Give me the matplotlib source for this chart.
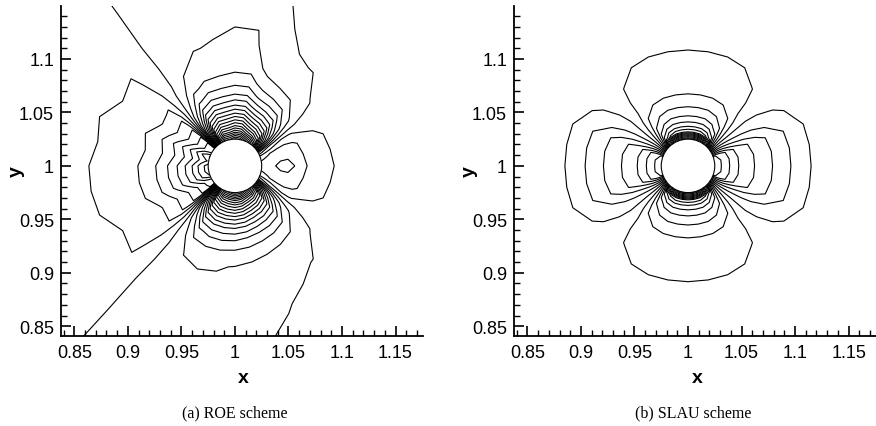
import numpy as np
import matplotlib.pyplot as plt
from matplotlib.patches import Circle
from matplotlib.ticker import MultipleLocator, FormatStrFormatter

plt.rcParams['font.family'] = ['Liberation Sans', 'DejaVu Sans']

# polar mesh around the cylinder (centre at x=1, y=1)
cyl_radius = 0.025
r_nodes = [0.025, 0.028, 0.032, 0.037, 0.043, 0.05, 0.058, 0.068, 0.08,
           0.095, 0.115, 0.14, 0.18, 0.23, 0.28]
theta_deg = np.arange(0, 370, 10)

# SLAU: level count along the x axis (side lobes) and y axis (top/bottom lobes)
slau_side = [7.0, 6.77, 6.43, 5.77, 4.93, 4.25, 3.75, 3.15, 2.44, 1.56, 0.5, 0.3, 0.15, 0.07, 0.03]
slau_top = [-14.8, -11.72, -7.3, -5.5, -4.06, -3.03, -2.23, -1.45, -1.13, -0.74, -0.38, -0.25, -0.12, -0.05, -0.02]
# lobe shape, 0..90 deg away from the x axis
slau_side_w = [1, 1, 0.95, 0.5, 0.25, 0.05, 0, 0, 0, 0]
slau_top_w = [0, 0, 0, 0.1, 0.37, 0.75, 0.92, 1, 1, 1]
slau_levels = np.arange(-14.5, 7, 1)

# ROE: left lobe, top/bottom lobes, right lobe, far field
roe_left = [9.0, 8.6, 8.0, 7.0, 6.0, 5.0, 4.0, 3.0, 2.0, 1.3, 0.8, 0.45, 0.25, 0.12, 0.06]
roe_top = [-19.0, -16.8, -14.0, -11.5, -9.2, -7.0, -5.0, -3.2, -1.9, -1.0, -0.6, -0.4, -0.22, -0.12, -0.06]
roe_right = [1.8, 2.0, 2.2, 2.45, 2.75, 2.8, 2.4, 1.45, 0.95, 0.42, 0.25, 0.15, 0.08, 0.04, 0.02]
roe_far = [0, 0.3, 0.6, 0.8, 0.95, 1, 1, 1, 1, 1, 1, 1, 1, 1, 1]
# weights every 10 deg, 0..350
roe_left_w = [0, 0, 0, 0, 0, 0, 0, 0, 0, 0, 0, 0.02, 0.1, 0.5, 0.85, 0.7, 0.95, 0.85,
              1.0, 1.0, 0.95, 0.7, 0.85, 0.5, 0.1, 0.02, 0, 0, 0, 0, 0, 0, 0, 0, 0, 0]
roe_top_w = [0, 0, 0.03, 0.15, 0.5, 0.8, 0.9, 0.95, 1.02, 1.04, 0.98, 0.99, 0.9, 0.65, 0.08, 0, 0, 0,
             0, 0, 0, 0, 0.1, 0.65, 0.9, 0.97, 1.0, 1.04, 1.02, 0.95, 0.9, 0.8, 0.5, 0.15, 0.03, 0]
roe_right_w = [1, 0.85, 0.8, 0.55, 0.2, 0, 0, 0, 0, 0, 0, 0, 0, 0, 0, 0, 0, 0,
               0, 0, 0, 0, 0, 0, 0, 0, 0, 0, 0, 0, 0, 0, 0.2, 0.55, 0.8, 0.85]
roe_far_w = [0, 0, 0, 0, 0, 0, 0, -0.2, -1.0, -1.0, -0.95, -0.9, -0.75, -0.35, 0, 0, 0, 0,
             0, 0, 0, 0, 0, -0.6, -0.75, -0.7, -0.6, -0.4, -0.25, -0.15, -0.05, 0, 0, 0, 0, 0]
roe_levels = np.arange(-21.5, 9, 1)

rr = np.array(r_nodes)
th = np.deg2rad(theta_deg)
X = 1 + np.outer(rr, np.cos(th))
Y = 1 + np.outer(rr, np.sin(th))

fold = np.abs((theta_deg + 90) % 180 - 90) // 10
Z_slau = np.outer(slau_side, np.array(slau_side_w)[fold]) + np.outer(slau_top, np.array(slau_top_w)[fold])


def closed(w):
    return np.append(w, w[0])


Z_roe = (np.outer(roe_left, closed(roe_left_w)) + np.outer(roe_top, closed(roe_top_w))
         + np.outer(roe_right, closed(roe_right_w)) + np.outer(roe_far, closed(roe_far_w)))


def draw_panel(rect, Z, levels, caption, cap_x):
    ax = fig.add_axes(rect)
    ax.contour(X, Y, Z, levels=levels, colors='k', linewidths=0.8, linestyles='solid')
    ax.add_patch(Circle((1, 1), cyl_radius, facecolor='white', edgecolor='k', lw=0.8, zorder=3))
    ax.set_xlim(0.8375, 1.1756)
    ax.set_ylim(0.8409, 1.1495)
    ax.set_xticks(np.arange(0.85, 1.151, 0.05))
    ax.set_yticks(np.arange(0.85, 1.101, 0.05))
    ax.xaxis.set_minor_locator(MultipleLocator(0.01))
    ax.yaxis.set_minor_locator(MultipleLocator(0.01))
    ax.xaxis.set_major_formatter(FormatStrFormatter('%g'))
    ax.yaxis.set_major_formatter(FormatStrFormatter('%g'))
    ax.tick_params(which='both', direction='in', top=False, right=False, labelsize=13)
    ax.tick_params(axis='x', which='major', pad=6)
    ax.tick_params(axis='y', which='major', pad=5)
    ax.tick_params(which='major', length=7, width=1.2)
    ax.tick_params(which='minor', length=4, width=1.0)
    ax.spines['top'].set_visible(False)
    ax.spines['right'].set_visible(False)
    ax.spines['left'].set_linewidth(1.3)
    ax.spines['bottom'].set_linewidth(1.3)
    ax.set_xlabel('x', fontsize=14, fontweight='bold')
    ax.set_ylabel('y', fontsize=14, fontweight='bold')
    ax.xaxis.set_label_coords(0.505, -0.1)
    ax.yaxis.set_label_coords(-0.1, 0.5)
    fig.text(cap_x, 0.033, caption, ha='center', va='center', family='Liberation Serif', fontsize=11.5)
    return ax


fig = plt.figure(figsize=(8.76, 4.27), dpi=100)
draw_panel([0.0696, 0.2108, 0.4132, 0.7728], Z_roe, roe_levels, '(a) ROE scheme', 0.268)
draw_panel([0.5868, 0.2108, 0.4132, 0.7728], Z_slau, slau_levels, '(b) SLAU scheme', 0.791)

plt.savefig('out.png', dpi=100)
